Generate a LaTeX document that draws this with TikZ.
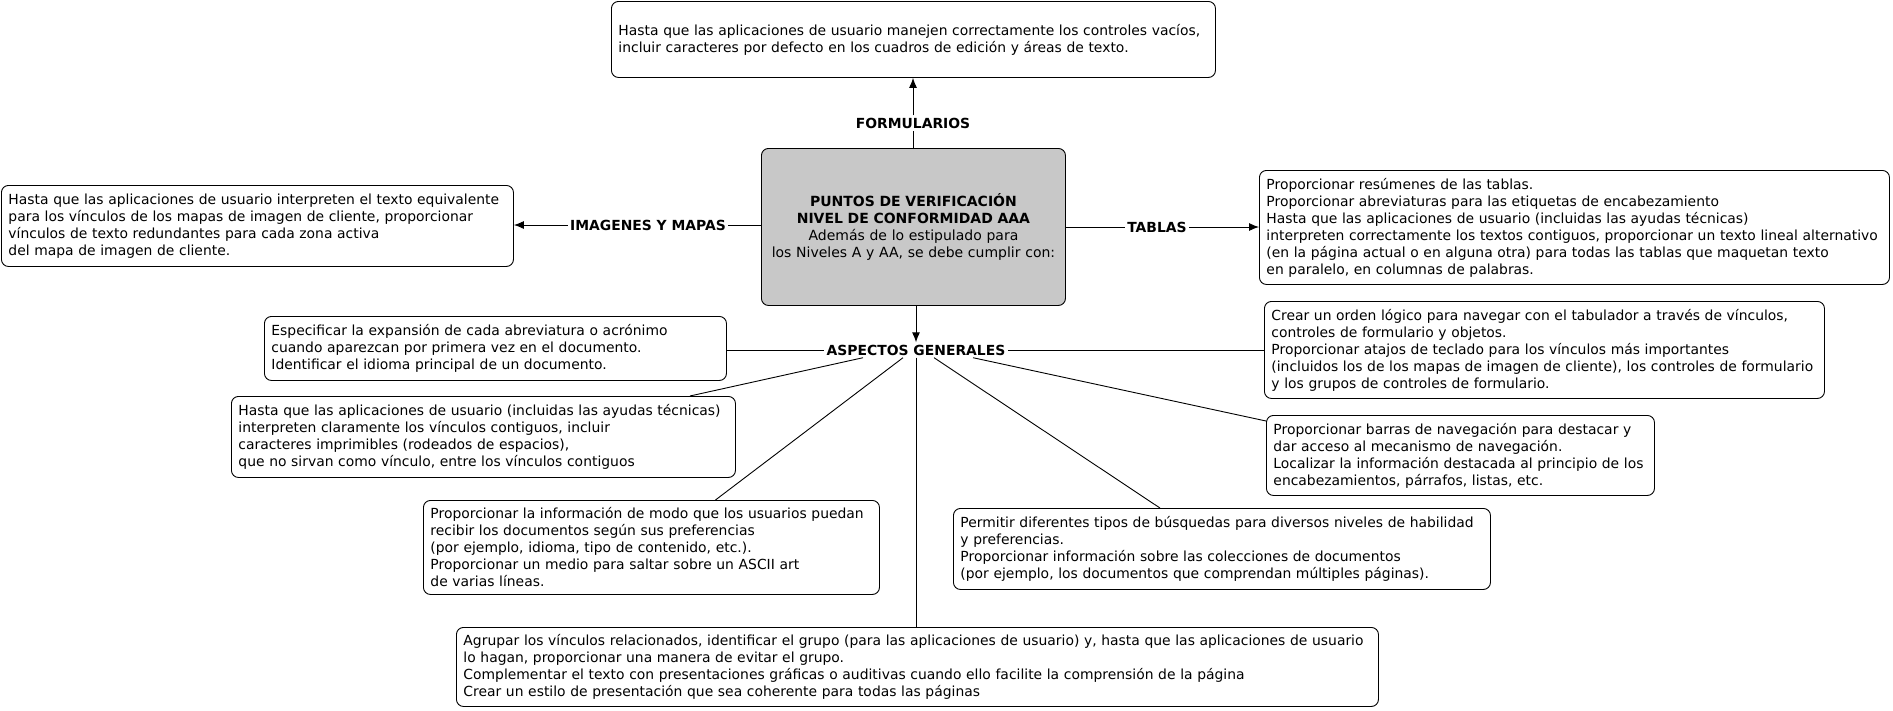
\documentclass[tikz,border=0pt]{standalone}
\usepackage{fontspec}
\setmainfont{DejaVu Sans}
\usepackage{tikz}
\usetikzlibrary{shapes,arrows,arrows.meta,calc,positioning}
\definecolor{centergray}{RGB}{200,200,200}
\tikzset{box/.style={draw, rectangle, rounded corners=7pt, align=left, inner xsep=7pt, inner ysep=3pt, font=\fontsize{13.9}{17}\selectfont}}
\tikzstyle{lbl}=[inner sep=2pt, font=\fontsize{13.9}{15}\bfseries]
\begin{document}
\begin{tikzpicture}[x=1pt, y=-1pt, >={Latex[length=10pt,width=8pt]}, line width=0.9pt]
\useasboundingbox (0,0) rectangle (1893,710);
\node[box, anchor=north west, text width=590, minimum height=76] at (611,1) (FORM){Hasta que las aplicaciones de usuario manejen correctamente los controles vacíos,\\incluir caracteres por defecto en los cuadros de edición y áreas de texto.};
\node[box, anchor=north west, text width=498, minimum height=81] at (1,185) (IMG){Hasta que las aplicaciones de usuario interpreten el texto equivalente\\para los vínculos de los mapas de imagen de cliente, proporcionar\\vínculos de texto redundantes para cada zona activa\\del mapa de imagen de cliente.};
\node[box, anchor=north west, fill=centergray, align=center, font=\fontsize{14}{17}\selectfont, text width=290, minimum height=157] at (761,148) (C){\textbf{PUNTOS DE VERIFICACIÓN}\\\textbf{NIVEL DE CONFORMIDAD AAA}\\Además de lo estipulado para\\los Niveles A y AA, se debe cumplir con:};
\node[box, anchor=north west, text width=616, minimum height=114] at (1259,170) (TAB){Proporcionar resúmenes de las tablas.\\Proporcionar abreviaturas para las etiquetas de encabezamiento\\Hasta que las aplicaciones de usuario (incluidas las ayudas técnicas)\\interpreten correctamente los textos contiguos, proporcionar un texto lineal alternativo\\(en la página actual o en alguna otra) para todas las tablas que maquetan texto\\en paralelo, en columnas de palabras.};
\node[box, anchor=north west, text width=448, minimum height=64] at (264,316) (ESP){Especificar la expansión de cada abreviatura o acrónimo\\cuando aparezcan por primera vez en el documento.\\Identificar el idioma principal de un documento.};
\node[box, anchor=north west, text width=546, minimum height=97] at (1264,301) (ORD){Crear un orden lógico para navegar con el tabulador a través de vínculos,\\controles de formulario y objetos.\\Proporcionar atajos de teclado para los vínculos más importantes\\(incluidos los de los mapas de imagen de cliente), los controles de formulario\\y los grupos de controles de formulario.};
\node[box, anchor=north west, text width=490, minimum height=81] at (231,396) (SEP){Hasta que las aplicaciones de usuario (incluidas las ayudas técnicas)\\interpreten claramente los vínculos contiguos, incluir\\caracteres imprimibles (rodeados de espacios),\\que no sirvan como vínculo, entre los vínculos contiguos};
\node[box, anchor=north west, text width=374, minimum height=80] at (1266,415) (NAV){Proporcionar barras de navegación para destacar y\\dar acceso al mecanismo de navegación.\\Localizar la información destacada al principio de los\\encabezamientos, párrafos, listas, etc.};
\node[box, anchor=north west, text width=442, minimum height=94] at (423,500) (PREF){Proporcionar la información de modo que los usuarios puedan\\recibir los documentos según sus preferencias\\(por ejemplo, idioma, tipo de contenido, etc.).\\Proporcionar un medio para saltar sobre un ASCII art\\de varias líneas.};
\node[box, anchor=north west, text width=523, minimum height=81] at (953,508) (BUS){Permitir diferentes tipos de búsquedas para diversos niveles de habilidad\\y preferencias.\\Proporcionar información sobre las colecciones de documentos\\(por ejemplo, los documentos que comprendan múltiples páginas).};
\node[box, anchor=north west, text width=908, minimum height=79] at (456,627) (GRP){Agrupar los vínculos relacionados, identificar el grupo (para las aplicaciones de usuario) y, hasta que las aplicaciones de usuario\\lo hagan, proporcionar una manera de evitar el grupo.\\Complementar el texto con presentaciones gráficas o auditivas cuando ello facilite la comprensión de la página\\Crear un estilo de presentación que sea coherente para todas las páginas};
% etiquetas
\node[lbl] at (913,123) (LFORM){FORMULARIOS};
\node[lbl] at (648,225) (LIMG){IMAGENES Y MAPAS};
\node[lbl] at (1157,227) (LTAB){TABLAS};
\node[lbl] at (916,350) (LASP){ASPECTOS GENERALES};
\draw (LFORM.south |- C.north) -- (LFORM.south);
\draw[->] (LFORM.north) -- (LFORM.north |- FORM.south);
\draw (C.west |- LIMG.east) -- (LIMG.east);
\draw[->] (LIMG.west) -- (LIMG.west -| IMG.east);
\draw (C.east |- LTAB.west) -- (LTAB.west);
\draw[->] (LTAB.east) -- (LTAB.east -| TAB.west);
\draw[->] (LASP.north |- C.south) -- (LASP.north);
\draw (LASP.west -| ESP.east) -- (LASP.west);
\draw (LASP.east) -- (LASP.east -| ORD.west);
\draw ([xshift=-53pt]LASP.south) -- ([xshift=-46pt]SEP.north east);
\draw ([xshift=-13pt]LASP.south) -- ([xshift=64pt]PREF.north);
\draw (LASP.south) -- (LASP.south |- GRP.north);
\draw ([xshift=18pt]LASP.south) -- ([xshift=-62pt]BUS.north);
\draw ([xshift=57pt]LASP.south) -- ([yshift=-6pt]NAV.north west);
\end{tikzpicture}
\end{document}
